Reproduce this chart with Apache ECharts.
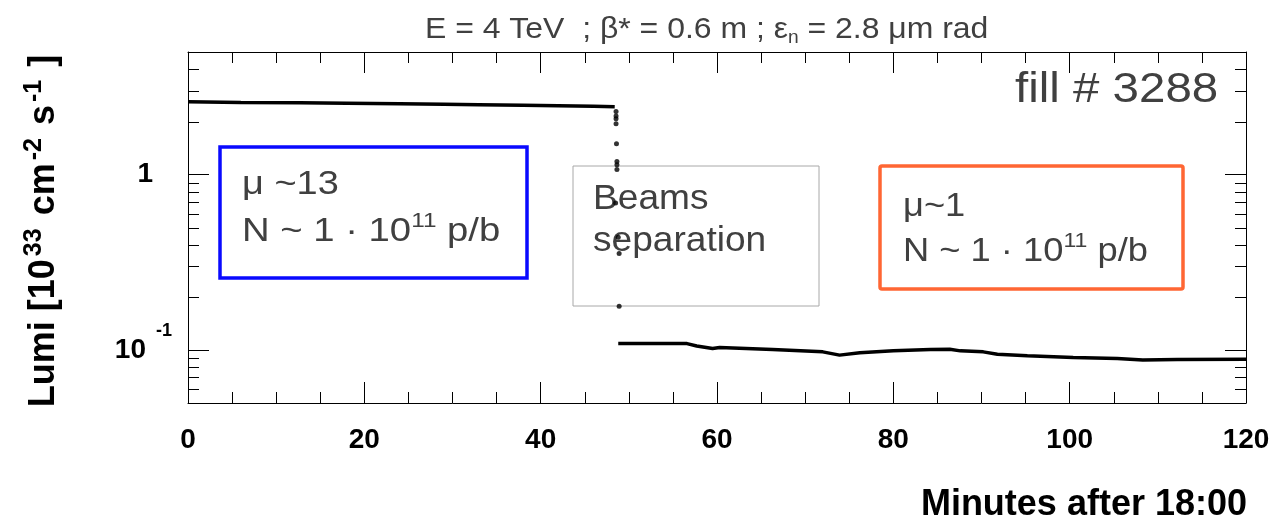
<!DOCTYPE html>
<html>
<head>
<meta charset="utf-8">
<script src="https://cdn.jsdelivr.net/npm/echarts@6/dist/echarts.min.js"></script>
<style>
  html, body { margin: 0; padding: 0; background: #fff; }
  #chart { width: 1276px; height: 525px; }
</style>
</head>
<body>
<div id="chart"></div>
<script>
// Fill 3288: luminosity before and after the beams are separated.
// Times are minutes after 18:00, luminosity in 10^33 cm^-2 s^-1.

// stable beams at mu ~ 13
const upperTime = [0, 6, 12.7, 18, 24, 29, 33, 38, 42, 46, 48.4];
const upperLumi = [2.60, 2.58, 2.565, 2.55, 2.532, 2.515, 2.50, 2.483, 2.466, 2.45, 2.434];

// points recorded while the beams are being separated
const dropTime = [48.55, 48.55, 48.55, 48.55, 48.6, 48.65, 48.65, 48.65, 48.5, 48.8, 48.9, 48.9];
const dropLumi = [2.29, 2.16, 2.08, 1.95, 1.50, 1.19, 1.14, 1.07, 0.69, 0.44, 0.356, 0.178];

// separated beams at mu ~ 1
const lowerTime = [48.8, 56.6, 57.7, 59.5, 60.3, 66.3, 72.0, 73.9, 76.2, 80.0, 84.2, 86.4, 87.6, 90.2, 91.8, 95.2, 100.4, 105.4, 108.3, 112.2, 120];
const lowerLumi = [0.109, 0.109, 0.1057, 0.1022, 0.1036, 0.1009, 0.0978, 0.0937, 0.0968, 0.0991, 0.1009, 0.1013, 0.0991, 0.0978, 0.0949, 0.0928, 0.0909, 0.0897, 0.0878, 0.0886, 0.0889];

// axes
const xRange = [0, 120];
const xStep = 20;
const yRange = [0.05, 5];
const yMajorTicks = [0.1, 1];
const yMajorLabels = ['{b|10}{e|-1}', '{one|1}'];
const yMinorTicks = [0.06, 0.07, 0.08, 0.09, 0.2, 0.3, 0.4, 0.5, 0.6, 0.7, 0.8, 0.9, 2, 3, 4];

const FONT = "'Liberation Sans', Arial, Helvetica, sans-serif";
const GREY = '#404040';
const MAJOR_LEN = 21;
const MINOR_LEN = 11;

const zip = (xs, ys) => xs.map((x, i) => [x, ys[i]]);

function yLabel(v) {
  for (let i = 0; i < yMajorTicks.length; i++) {
    if (Math.abs(Math.log10(v) - Math.log10(yMajorTicks[i])) < 1e-6) return yMajorLabels[i];
  }
  return '';
}

const axisLineStyle = { color: '#000', width: 1 };

function xAxisDef(position, labels) {
  return {
    type: 'value', position: position, min: xRange[0], max: xRange[1], interval: xStep,
    axisLine: { show: true, onZero: false, lineStyle: axisLineStyle },
    axisTick: { show: true, inside: true, length: MAJOR_LEN, lineStyle: { color: '#000', width: 1 } },
    minorTick: { show: true, splitNumber: 4, length: MINOR_LEN, lineStyle: { color: '#000', width: 1 } },
    splitLine: { show: false },
    axisLabel: {
      show: labels, margin: 23, color: '#000', fontFamily: FONT, fontWeight: 'bold', fontSize: 28,
      showMinLabel: true, showMaxLabel: true
    }
  };
}

function yAxisDef(position, labels) {
  return {
    type: 'log', logBase: 10, position: position, min: yRange[0], max: yRange[1],
    axisLine: { show: true, onZero: false, lineStyle: axisLineStyle },
    axisTick: { show: true, inside: true, length: MAJOR_LEN, lineStyle: { color: '#000', width: 1 } },
    minorTick: { show: false },
    splitLine: { show: false },
    axisLabel: {
      show: labels, margin: 16, color: '#000', fontFamily: FONT, fontWeight: 'bold', fontSize: 28,
      formatter: yLabel,
      rich: {
        one: { fontFamily: FONT, fontWeight: 'bold', fontSize: 28, color: '#000', padding: [0, 19, 0, 0] },
        b: { fontFamily: FONT, fontWeight: 'bold', fontSize: 28, color: '#000', lineHeight: 56 },
        e: { fontFamily: FONT, fontWeight: 'bold', fontSize: 18, color: '#000', verticalAlign: 'top', padding: [0, 0, 0, 10] }
      }
    }
  };
}

// minor ticks of the logarithmic axis, on both the left and right frame edges
function renderMinorTick(params, api) {
  const cs = params.coordSys;
  const y = Math.round(api.coord([xRange[0], api.value(1)])[1]) + 0.5;
  const st = { stroke: '#000', lineWidth: 1 };
  return {
    type: 'group',
    children: [
      { type: 'line', shape: { x1: cs.x, y1: y, x2: cs.x + MINOR_LEN, y2: y }, style: st },
      { type: 'line', shape: { x1: cs.x + cs.width - MINOR_LEN, y1: y, x2: cs.x + cs.width, y2: y }, style: st }
    ]
  };
}

function txt(x, y, text, size, rich, extra, styleExtra) {
  return Object.assign({
    type: 'text', x: x, y: y, silent: true,
    style: Object.assign({
      text: text, fontFamily: FONT, fontSize: size, fill: GREY,
      align: 'left', textAlign: 'left', verticalAlign: 'middle', textVerticalAlign: 'middle',
      rich: rich || {}
    }, styleExtra || {})
  }, extra || {});
}

const annRich = {
  t: { fontFamily: FONT, fontSize: 33, fill: GREY, color: GREY, lineHeight: 42 },
  s: { fontFamily: FONT, fontSize: 21, fill: GREY, color: GREY, verticalAlign: 'top' }
};

const chart = echarts.init(document.getElementById('chart'), null, { renderer: 'canvas' });

chart.setOption({
  animation: false,
  backgroundColor: '#fff',
  grid: { left: 188, top: 52, width: 1058, height: 351, show: false },
  xAxis: [xAxisDef('bottom', true), xAxisDef('top', false)],
  yAxis: [yAxisDef('left', true), yAxisDef('right', false)],
  series: [
    {
      type: 'line', name: 'mu13', data: zip(upperTime, upperLumi),
      showSymbol: false, symbol: 'none', lineStyle: { color: '#000', width: 3.5 }, z: 5
    },
    {
      type: 'scatter', name: 'separation', data: zip(dropTime, dropLumi),
      symbol: 'circle', symbolSize: 5, itemStyle: { color: '#000' }, z: 6
    },
    {
      type: 'line', name: 'mu1', data: zip(lowerTime, lowerLumi),
      showSymbol: false, symbol: 'none', lineStyle: { color: '#000', width: 3.5 }, z: 5
    },
    {
      type: 'custom', name: 'minorTicks', silent: true,
      data: yMinorTicks.map(v => [xRange[0], v]),
      renderItem: renderMinorTick, z: 3
    }
  ],
  graphic: [
    // run conditions
    txt(425, 30, '{t|E = 4 TeV  ; β* = 0.6 m ; ε}{n|n}{t| = 2.8 μm rad}', 30, {
      t: { fontFamily: FONT, fontSize: 30, fill: GREY, color: GREY, lineHeight: 34 },
      n: { fontFamily: FONT, fontSize: 18, fill: GREY, color: GREY, verticalAlign: 'bottom' }
    }, { scaleX: 1.065 }),
    // fill number
    txt(1015, 90, 'fill # 3288', 42, null, { scaleX: 1.13 }),
    // axis titles
    txt(1247, 505, 'Minutes after 18:00', 36, null, {},
      { fill: '#000', fontWeight: 'bold', align: 'right', textAlign: 'right' }),
    {
      type: 'text', x: 44, y: 231, rotation: Math.PI / 2, silent: true,
      style: {
        text: '{a|Lumi [10}{s|33}{a| cm}{s|-2}{a| s}{s|-1}{a| ]}',
        align: 'center', textAlign: 'center', verticalAlign: 'middle', textVerticalAlign: 'middle',
        rich: {
          a: { fontFamily: FONT, fontWeight: 'bold', fontSize: 36, fill: '#000', color: '#000', lineHeight: 44 },
          s: { fontFamily: FONT, fontWeight: 'bold', fontSize: 25, fill: '#000', color: '#000', verticalAlign: 'top', padding: [0, 3, 0, 3] }
        }
      }
    },
    // mu ~ 13 box
    { type: 'rect', silent: true, shape: { x: 220, y: 147, width: 307, height: 131 },
      style: { fill: 'none', stroke: '#0a0aff', lineWidth: 3.5 } },
    txt(242, 185, '{t|μ ~13}', 33, annRich, { scaleX: 1.15 }),
    txt(242, 232, '{t|N ~ 1 · 10}{s|11}{t| p/b}', 33, annRich, { scaleX: 1.16 }),
    // beams separation box
    { type: 'rect', silent: true, shape: { x: 573, y: 166, width: 246, height: 140 },
      style: { fill: 'none', stroke: '#a8a8a8', lineWidth: 1 } },
    txt(593, 199, 'Beams', 35, null, { scaleX: 1.06 }),
    txt(593, 241, 'separation', 35, null, { scaleX: 1.06 }),
    // mu ~ 1 box
    { type: 'rect', silent: true, shape: { x: 880, y: 166, width: 303, height: 123, r: 2 },
      style: { fill: 'none', stroke: '#ff6633', lineWidth: 3.5 } },
    txt(903, 207, '{t|μ~1}', 33, annRich, { scaleX: 1.10 }),
    txt(903, 252, '{t|N ~ 1 · 10}{s|11}{t| p/b}', 33, annRich, { scaleX: 1.10 })
  ]
});
</script>
</body>
</html>
